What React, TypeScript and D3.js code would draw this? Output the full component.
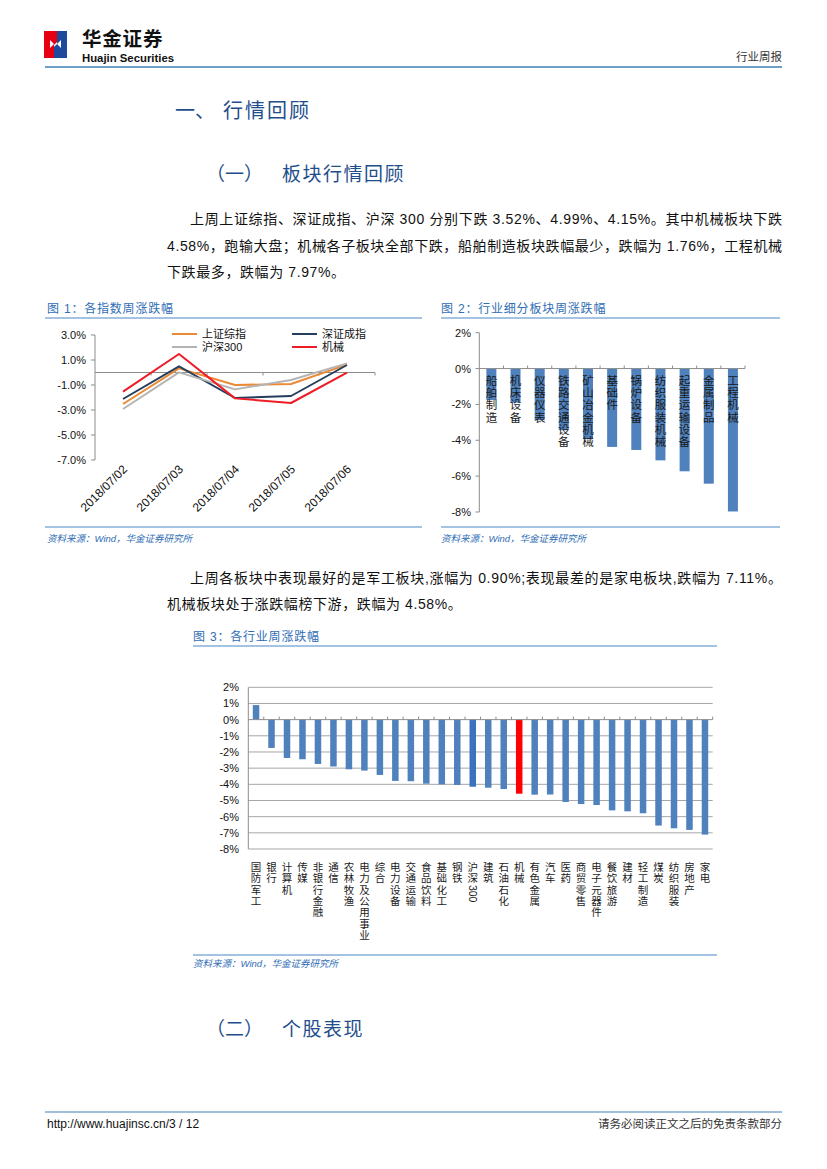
import React from "react";
import * as d3 from "d3";

// ---------- DATA ----------
const dates = ["2018/07/02", "2018/07/03", "2018/07/04", "2018/07/05", "2018/07/06"];
const seriesNames = ["上证综指", "深证成指", "沪深300", "机械"];
const szzz = [-2.52, 0.33, -1.0, -0.92, 0.63];
const szcz = [-2.12, 0.49, -2.04, -1.88, 0.6];
const hs300 = [-2.92, 0.01, -1.35, -0.6, 0.73];
const jixie = [-1.53, 1.48, -2.07, -2.44, -0.01];
const fig1Ticks = [3, 1, -1, -3, -5, -7];

const subSectors = ["船舶制造", "机床设备", "仪器仪表", "铁路交通设备", "矿山冶金机械", "基础件", "锅炉设备", "纺织服装机械", "起重运输设备", "金属制品", "工程机械"];
const subValues = [-1.76, -1.9, -2.88, -3.44, -3.94, -4.37, -4.54, -5.12, -5.73, -6.42, -7.97];
const fig2Ticks = [2, 0, -2, -4, -6, -8];

const industries = ["国防军工", "银行", "计算机", "传媒", "非银行金融", "通信", "农林牧渔", "电力及公用事业", "综合", "电力设备", "交通运输", "食品饮料", "基础化工", "钢铁", "沪深300", "建筑", "石油石化", "机械", "有色金属", "汽车", "医药", "商贸零售", "电子元器件", "餐饮旅游", "建材", "轻工制造", "煤炭", "纺织服装", "房地产", "家电"];
const industryValues = [0.9, -1.75, -2.37, -2.45, -2.74, -2.9, -3.07, -3.15, -3.42, -3.79, -3.81, -3.96, -4.0, -4.04, -4.15, -4.21, -4.29, -4.58, -4.64, -4.63, -5.09, -5.22, -5.28, -5.61, -5.67, -5.79, -6.55, -6.72, -6.82, -7.11];
const fig3Ticks = [2, 1, 0, -1, -2, -3, -4, -5, -6, -7, -8];

// ---------- STYLE ----------
const FONT = "'Liberation Sans', Arial, 'Noto Sans CJK SC', sans-serif";
const CJK = "'Liberation Sans', 'Noto Sans CJK SC', sans-serif";
const BLUE_LINE = "#4A86C5";
const TITLE_BLUE = "#2F6DB5";
const HEAD_BLUE = "#1F4E8C";
const AXIS = "#8C8C8C";
const BAR = "#4F81BD";

function VerticalLabel({ x, y, text, size, step, color }: any) {
  const parts: { t: string; digit: boolean }[] = [];
  for (const ch of text) {
    const d = /[0-9]/.test(ch);
    const last = parts[parts.length - 1];
    if (d && last && last.digit) last.t += ch;
    else parts.push({ t: ch, digit: d });
  }
  let cy = y;
  const out: any[] = [];
  parts.forEach((p, i) => {
    if (p.digit) {
      const len = p.t.length * size * 0.56;
      out.push(
        <text key={i} x={0} y={0} fontSize={size} fill={color} fontFamily={FONT}
          transform={`translate(${x - size * 0.36},${cy - size * 0.45}) rotate(90)`}>{p.t}</text>
      );
      cy += len + 2;
    } else {
      out.push(
        <text key={i} x={x} y={cy} fontSize={size} fill={color} textAnchor="middle" dominantBaseline="central" fontFamily={CJK}>{p.t}</text>
      );
      cy += step;
    }
  });
  return <g>{out}</g>;
}

function Fig1() {
  const x = d3.scaleBand().domain(dates).range([95, 375]);
  const y = d3.scaleLinear().domain([-7, 3]).range([460, 335]);
  const cx = (d: string) => (x(d) as number) + x.bandwidth() / 2;
  const series = [
    { name: seriesNames[0], vals: szzz, color: "#EB8A35" },
    { name: seriesNames[1], vals: szcz, color: "#263E5E" },
    { name: seriesNames[2], vals: hs300, color: "#B4B4B4" },
    { name: seriesNames[3], vals: jixie, color: "#EE1C25" },
  ];
  const line = d3.line<number>().x((_, i) => cx(dates[i])).y((v) => y(v));
  const legendPos = [
    [172, 334], [292, 334], [172, 347], [292, 347],
  ];
  return (
    <g>
      <text x={47} y={313} fontSize={12} fill={TITLE_BLUE} fontFamily={CJK} letterSpacing={0.8}>图 1：各指数周涨跌幅</text>
      <line x1={45} x2={422} y1={318} y2={318} stroke={BLUE_LINE} strokeWidth={1.2} />
      <line x1={95} x2={95} y1={y(3)} y2={y(-7)} stroke={AXIS} />
      {fig1Ticks.map((t) => (
        <g key={t}>
          <line x1={91} x2={95} y1={y(t)} y2={y(t)} stroke={AXIS} />
          <text x={86} y={y(t)} fontSize={11} textAnchor="end" dominantBaseline="central" fontFamily={FONT} fill="#111">{t.toFixed(1) + "%"}</text>
        </g>
      ))}
      <line x1={95} x2={375} y1={y(0)} y2={y(0)} stroke={AXIS} />
      {dates.map((d) => (
        <line key={d} x1={(x(d) as number) + x.bandwidth()} x2={(x(d) as number) + x.bandwidth()} y1={y(0)} y2={y(0) + 3} stroke={AXIS} />
      ))}
      {series.map((s) => (
        <path key={s.name} d={line(s.vals) as string} fill="none" stroke={s.color} strokeWidth={2} strokeLinejoin="round" />
      ))}
      {series.map((s, i) => (
        <g key={"lg" + s.name}>
          <line x1={legendPos[i][0]} x2={legendPos[i][0] + 25} y1={legendPos[i][1]} y2={legendPos[i][1]} stroke={s.color} strokeWidth={2} />
          <text x={legendPos[i][0] + 30} y={legendPos[i][1]} fontSize={11} dominantBaseline="central" fontFamily={CJK} fill="#111">{s.name}</text>
        </g>
      ))}
      {dates.map((d) => (
        <text key={"xl" + d} transform={`translate(${cx(d) + 5},${470}) rotate(-45)`} fontSize={12} textAnchor="end" fontFamily={FONT} fill="#111">{d}</text>
      ))}
      <line x1={45} x2={422} y1={527} y2={527} stroke={BLUE_LINE} strokeWidth={1.2} />
      <text x={47} y={542} fontSize={9.5} fill={TITLE_BLUE} fontStyle="italic" fontFamily={CJK}>资料来源：Wind，华金证券研究所</text>
    </g>
  );
}

function Fig2() {
  const x = d3.scaleBand().domain(subSectors).range([479.3, 745]);
  const y = d3.scaleLinear().domain([-8, 2]).range([512, 332.7]);
  const bw = 10;
  return (
    <g>
      <text x={441} y={313} fontSize={12} fill={TITLE_BLUE} fontFamily={CJK} letterSpacing={0.8}>图 2：行业细分板块周涨跌幅</text>
      <line x1={441} x2={780} y1={318} y2={318} stroke={BLUE_LINE} strokeWidth={1.2} />
      <line x1={479.3} x2={479.3} y1={y(2)} y2={y(-8)} stroke={AXIS} />
      {fig2Ticks.map((t) => (
        <g key={t}>
          <line x1={475.5} x2={479.3} y1={y(t)} y2={y(t)} stroke={AXIS} />
          <text x={471} y={y(t)} fontSize={11} textAnchor="end" dominantBaseline="central" fontFamily={FONT} fill="#111">{t + "%"}</text>
        </g>
      ))}
      {subSectors.map((s, i) => {
        const c = (x(s) as number) + x.bandwidth() / 2;
        const v = subValues[i];
        return (
          <rect key={s} x={c - bw / 2} y={y(Math.max(0, v))} width={bw} height={Math.abs(y(v) - y(0))} fill={BAR} />
        );
      })}
      <line x1={479.3} x2={745} y1={y(0)} y2={y(0)} stroke={AXIS} />
      {subSectors.map((s) => (
        <line key={"t" + s} x1={(x(s) as number) + x.bandwidth()} x2={(x(s) as number) + x.bandwidth()} y1={y(0) - 3} y2={y(0)} stroke={AXIS} />
      ))}
      {subSectors.map((s) => (
        <VerticalLabel key={"l" + s} x={(x(s) as number) + x.bandwidth() / 2} y={381} text={s} size={11.5} step={12.2} color="#1a1a1a" />
      ))}
      <line x1={441} x2={780} y1={527} y2={527} stroke={BLUE_LINE} strokeWidth={1.2} />
      <text x={441} y={542} fontSize={9.5} fill={TITLE_BLUE} fontStyle="italic" fontFamily={CJK}>资料来源：Wind，华金证券研究所</text>
    </g>
  );
}

function Fig3() {
  const x = d3.scaleBand().domain(industries).range([248.3, 712.7]);
  const y = d3.scaleLinear().domain([-8, 2]).range([849, 687.3]);
  const bw = 6.5;
  return (
    <g>
      <text x={193} y={641} fontSize={12} fill={TITLE_BLUE} fontFamily={CJK} letterSpacing={0.8}>图 3：各行业周涨跌幅</text>
      <line x1={193} x2={717} y1={646} y2={646} stroke={BLUE_LINE} strokeWidth={1.2} />
      {fig3Ticks.map((t) => (
        <g key={t}>
          {t !== 0 && <line x1={248.3} x2={712.7} y1={y(t)} y2={y(t)} stroke="#A6A6A6" />}
          <text x={239} y={y(t)} fontSize={11} textAnchor="end" dominantBaseline="central" fontFamily={FONT} fill="#111">{t + "%"}</text>
        </g>
      ))}
      <line x1={248.3} x2={248.3} y1={y(2)} y2={y(-8)} stroke={AXIS} />
      {industries.map((s, i) => {
        const c = (x(s) as number) + x.bandwidth() / 2;
        const v = industryValues[i];
        const fill = s === "机械" ? "#FF0000" : s === "沪深300" ? "#3A72BE" : BAR;
        return <rect key={s} x={c - bw / 2} y={y(Math.max(0, v))} width={bw} height={Math.abs(y(v) - y(0))} fill={fill} />;
      })}
      <line x1={248.3} x2={712.7} y1={y(0)} y2={y(0)} stroke={AXIS} />
      {industries.map((s) => (
        <line key={"t" + s} x1={(x(s) as number) + x.bandwidth()} x2={(x(s) as number) + x.bandwidth()} y1={y(0) - 3} y2={y(0)} stroke={AXIS} />
      ))}
      {industries.map((s) => (
        <VerticalLabel key={"l" + s} x={(x(s) as number) + x.bandwidth() / 2} y={867} text={s} size={10.5} step={11.3} color="#1a1a1a" />
      ))}
      <line x1={193} x2={717} y1={955} y2={955} stroke={BLUE_LINE} strokeWidth={1.2} />
      <text x={193} y={967} fontSize={9.5} fill={TITLE_BLUE} fontStyle="italic" fontFamily={CJK}>资料来源：Wind，华金证券研究所</text>
    </g>
  );
}

function Header() {
  return (
    <g>
      <rect x={44} y={31} width={10} height={27} fill="#E60012" />
      <rect x={57} y={31} width={10} height={27} fill="#1D4A9B" />
      <polygon points="54,31 57,31 57,42 54,45" fill="#E60012" />
      <polygon points="54,47 57,44 57,58 54,58" fill="#1D4A9B" />
      <polygon points="50,40 54,44 50,48" fill="#fff" />
      <polygon points="61,40 57,44 61,48" fill="#fff" />
      <text x={82} y={46} fontSize={19.5} fontWeight="bold" fontFamily="'Noto Sans CJK SC', sans-serif" fill="#111" letterSpacing={0.8}>华金证券</text>
      <text x={82} y={62} fontSize={10} fontWeight="bold" fontFamily="'Liberation Sans Narrow', 'Liberation Sans', sans-serif" fill="#111" textLength={92} lengthAdjust="spacingAndGlyphs">Huajin Securities</text>
      <text x={782} y={61} fontSize={11.5} textAnchor="end" fontFamily={CJK} fill="#333">行业周报</text>
      <line x1={45} x2={782} y1={67} y2={67} stroke="#3F7FB5" strokeWidth={1.5} />
    </g>
  );
}

function Body() {
  const ts = { fontSize: 14, fontFamily: CJK, fill: "#111" } as any;
  return (
    <g>
      <text x={175} y={118} fontSize={20} fontFamily={CJK} fill={HEAD_BLUE}>一、</text>
      <text x={223} y={118} fontSize={20} fontFamily={CJK} fill={HEAD_BLUE} letterSpacing={2}>行情回顾</text>
      <text x={206} y={181} fontSize={19} fontFamily={CJK} fill={HEAD_BLUE}>（一）</text>
      <text x={282} y={181} fontSize={19} fontFamily={CJK} fill={HEAD_BLUE} letterSpacing={1.5}>板块行情回顾</text>

      <text x={190} y={224} {...ts} textLength={592} lengthAdjust="spacing">上周上证综指、深证成指、沪深 300 分别下跌 3.52%、4.99%、4.15%。其中机械板块下跌</text>
      <text x={167} y={251} {...ts} textLength={615} lengthAdjust="spacing">4.58%，跑输大盘；机械各子板块全部下跌，船舶制造板块跌幅最少，跌幅为 1.76%，工程机械</text>
      <text x={167} y={277} {...ts} letterSpacing={0.6}>下跌最多，跌幅为 7.97%。</text>

      <text x={190} y={583} {...ts} textLength={592} lengthAdjust="spacing">上周各板块中表现最好的是军工板块,涨幅为 0.90%;表现最差的是家电板块,跌幅为 7.11%。</text>
      <text x={167} y={609} {...ts} letterSpacing={0.6}>机械板块处于涨跌幅榜下游，跌幅为 4.58%。</text>

      <text x={206} y={1036} fontSize={19} fontFamily={CJK} fill={HEAD_BLUE}>（二）</text>
      <text x={282} y={1036} fontSize={19} fontFamily={CJK} fill={HEAD_BLUE} letterSpacing={1.5}>个股表现</text>
    </g>
  );
}

function Footer() {
  return (
    <g>
      <line x1={45} x2={782} y1={1112} y2={1112} stroke="#3F7FB5" strokeWidth={1.2} />
      <text x={47} y={1128} fontSize={12} fontFamily={FONT} fill="#111">http://www.huajinsc.cn/3 / 12</text>
      <text x={782} y={1128} fontSize={11.5} textAnchor="end" fontFamily={CJK} fill="#333">请务必阅读正文之后的免责条款部分</text>
    </g>
  );
}

export default function App() {
  return (
    <div style={{ position: "absolute", left: 0, top: 0 }}>
      <svg width={827} height={1169} viewBox="0 0 827 1169" style={{ display: "block", background: "#fff" }}>
        <rect x={0} y={0} width={827} height={1169} fill="#fff" />
        <Header />
        <Body />
        <Fig1 />
        <Fig2 />
        <Fig3 />
        <Footer />
      </svg>
    </div>
  );
}
